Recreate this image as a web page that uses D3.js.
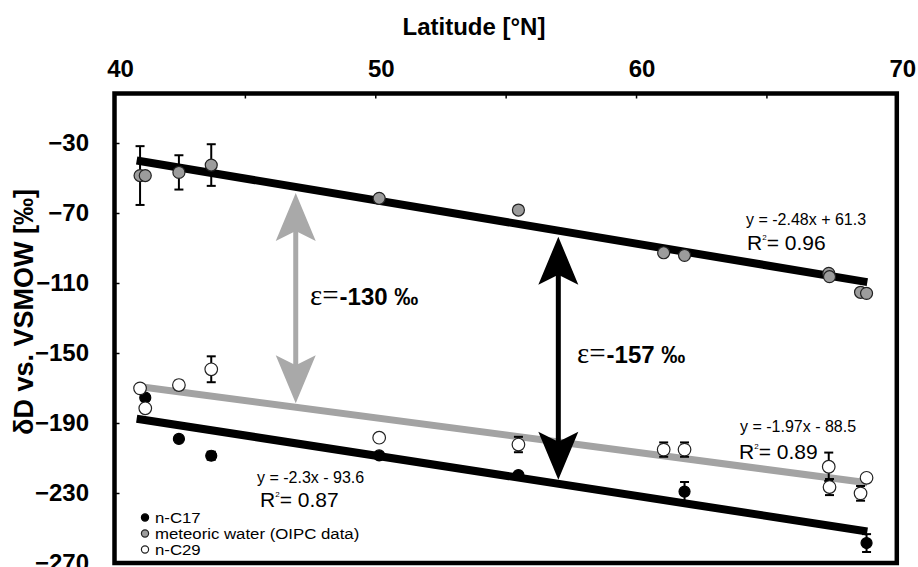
<!DOCTYPE html>
<html>
<head>
<meta charset="utf-8">
<script src="https://cdn.jsdelivr.net/npm/d3@7"></script>
<style>
  html, body { margin: 0; padding: 0; background: #fff; }
  svg { display: block; }
  text { font-family: "Liberation Sans", Arial, sans-serif; fill: #000; }
</style>
</head>
<body>
<svg id="chart" width="918" height="567"></svg>
<script>
// Latitude (°N) and δD (‰) of each series, with error bar half-widths (0 = none)
const metLat = [40.98, 41.18, 42.47, 43.71, 50.15, 55.49, 61.06, 61.86, 67.39, 67.42, 68.61, 68.84];
const metVal = [-48.6, -48.6, -46.8, -42.6, -61.6, -68.3, -92.7, -94.2, -104.5, -106.4, -115.3, -115.9];
const metErr = [16.8, 0, 9.8, 11.9, 0, 0, 0, 0, 0, 0, 0, 0];

const c29Lat = [40.98, 41.18, 42.47, 43.71, 50.15, 55.49, 61.06, 61.86, 67.39, 67.42, 68.61, 68.84];
const c29Val = [-170.2, -181.6, -168.3, -159.3, -198.4, -202.3, -205.2, -205.2, -215.0, -226.6, -230.2, -221.3];
const c29Err = [1.5, 0, 2.5, 7.4, 0, 4.4, 4.1, 4.1, 8.1, 4.6, 4.2, 1.5];

const c17Lat = [41.18, 42.47, 43.71, 50.15, 55.49, 61.86, 68.84];
const c17Val = [-175.5, -199.1, -208.7, -208.5, -219.7, -229.2, -258.6];
const c17Err = [0, 0, 2.3, 0, 0, 5.5, 5.1];

// Linear fits: meteoric water, n-C29, n-C17
const fitSlope = [-2.48, -1.97, -2.3];
const fitIntercept = [61.3, -88.5, -93.6];
const fitR2 = ["0.96", "0.89", "0.87"];
const fitRange = [40.85, 68.87];

// Fractionation arrows
const arrowLat = [46.95, 57.02];
const arrowText = ["-130 ‰", "-157 ‰"];

// Axis ticks
const xTicks = [40, 45, 50, 55, 60, 65, 70];
const yTicks = [-270, -230, -190, -150, -110, -70, -30];

const legendLabels = ["n-C17", "meteoric water (OIPC data)", "n-C29"];

// ---- layout ----
const svg = d3.select("#chart");
const plotLeft = 114.5, plotRight = 896.8, plotTop = 93.5, plotBottom = 563;
const x = d3.scaleLinear().domain([40, 70]).range([plotLeft, plotRight]);
const y = d3.scaleLinear().domain([-270, -30]).range([plotBottom, 143]);

const grayLine = "#a3a3a3";
const grayArrow = "#a9a9a9";
const grayFill = "#9c9c9c";

// axes (ticks inside the frame)
const xAxis = d3.axisTop(x).tickValues(xTicks).tickSize(-5).tickPadding(17)
  .tickFormat(d => d % 10 === 0 ? d : "");
const gx = svg.append("g").attr("transform", `translate(0,${plotTop})`).call(xAxis);
gx.select(".domain").remove();
gx.selectAll(".tick line").attr("stroke", "#000").attr("stroke-width", 1.5);
gx.selectAll(".tick text").attr("dx", 5.5)
  .style("font-family", "'Liberation Sans', Arial, sans-serif")
  .style("font-weight", "bold").style("font-size", "24px").attr("fill", "#000");

const yAxis = d3.axisLeft(y).tickValues(yTicks).tickSize(-5).tickPadding(25.5);
const gy = svg.append("g").attr("transform", `translate(${plotLeft},0)`).call(yAxis);
gy.select(".domain").remove();
gy.selectAll(".tick line").attr("stroke", "#000").attr("stroke-width", 1.5);
gy.selectAll(".tick text")
  .style("font-family", "'Liberation Sans', Arial, sans-serif")
  .style("font-weight", "bold").style("font-size", "24px").attr("fill", "#000");

// axis titles
svg.append("text").attr("x", 474).attr("y", 35).attr("text-anchor", "middle")
  .style("font-weight", "bold").style("font-size", "24px").text("Latitude [°N]");
svg.append("text").attr("transform", "translate(33,312) rotate(-90)").attr("text-anchor", "middle")
  .style("font-weight", "bold").style("font-size", "27px").text("δD vs. VSMOW [‰]");

// regression lines
const fitColors = ["#000", grayLine, "#000"];
const fitWidths = [8, 7, 8];
const fitLine = i => d3.line().x(d => x(d)).y(d => y(fitSlope[i] * d + fitIntercept[i]));
[0, 1, 2].forEach(i => {
  svg.append("path").datum(fitRange).attr("d", fitLine(i))
    .attr("fill", "none").attr("stroke", fitColors[i]).attr("stroke-width", fitWidths[i]);
});

// double-headed arrows between the meteoric line and the lipid lines
function arrowHead(g, cx, tipY, dir, color) {
  const L = 48, W = 20, N = 38;
  const pts = [[cx, tipY], [cx + W, tipY + dir * L], [cx, tipY + dir * N], [cx - W, tipY + dir * L]];
  g.append("path").attr("d", "M" + pts.map(p => p.join(",")).join("L") + "Z").attr("fill", color);
}
const arrowPairs = [[0, 1], [0, 2]];
const arrowColors = [grayArrow, "#000"];
const arrowTextPos = [[310, 305], [577, 363]];
arrowLat.forEach((la, i) => {
  const g = svg.append("g");
  const cx = x(la);
  const [a, b] = arrowPairs[i];
  const y1 = y(fitSlope[a] * la + fitIntercept[a]) + 6;
  const y2 = y(fitSlope[b] * la + fitIntercept[b]) - 4;
  g.append("line").attr("x1", cx).attr("x2", cx).attr("y1", y1 + 30).attr("y2", y2 - 30)
    .attr("stroke", arrowColors[i]).attr("stroke-width", 5);
  arrowHead(g, cx, y1, 1, arrowColors[i]);
  arrowHead(g, cx, y2, -1, arrowColors[i]);
  const t = svg.append("text").attr("x", arrowTextPos[i][0]).attr("y", arrowTextPos[i][1]);
  t.append("tspan").style("font-family", "'Liberation Serif', 'Times New Roman', serif")
    .style("font-size", "29px").text("ε=");
  t.append("tspan").attr("dx", 1).style("font-weight", "bold").style("font-size", "24px").text(arrowText[i]);
});

// equation labels
const eqPos = [[746, 225], [740, 432], [257, 483]];
const r2Pos = [[747, 250], [739, 459], [260, 507]];
const fmt = v => String(Math.abs(v));
[0, 1, 2].forEach(i => {
  const b = fitIntercept[i];
  svg.append("text").attr("x", eqPos[i][0]).attr("y", eqPos[i][1]).style("font-size", "16px")
    .text(`y = ${fitSlope[i]}x ${b < 0 ? "-" : "+"} ${fmt(b)}`);
  const t = svg.append("text").attr("x", r2Pos[i][0]).attr("y", r2Pos[i][1]).style("font-size", "21px");
  t.append("tspan").text("R");
  t.append("tspan").attr("dy", -10).style("font-size", "8px").text("2");
  t.append("tspan").attr("dy", 10).text("= " + fitR2[i]);
});

// error bars + points
function series(lat, val, err, fill, r) {
  const g = svg.append("g");
  const idx = d3.range(lat.length);
  idx.filter(i => err[i] > 0).forEach(i => {
    const cx = x(lat[i]), yt = y(val[i] + err[i]), yb = y(val[i] - err[i]);
    g.append("line").attr("x1", cx).attr("x2", cx).attr("y1", yt).attr("y2", yb)
      .attr("stroke", "#000").attr("stroke-width", 2);
    [yt, yb].forEach(yy => g.append("line").attr("x1", cx - 4.5).attr("x2", cx + 4.5)
      .attr("y1", yy).attr("y2", yy).attr("stroke", "#000").attr("stroke-width", 2));
  });
  g.selectAll("circle").data(idx).join("circle")
    .attr("cx", i => x(lat[i])).attr("cy", i => y(val[i])).attr("r", r)
    .attr("fill", fill).attr("stroke", fill === "#000" ? "#000" : "#222").attr("stroke-width", 1.2);
}
series(c17Lat, c17Val, c17Err, "#000", 5.5);
series(metLat, metVal, metErr, grayFill, 6);
series(c29Lat, c29Val, c29Err, "#fff", 6.3);

// legend
const legFill = ["#000", grayFill, "#fff"];
const legY = [517.5, 533.5, 549.5];
legendLabels.forEach((lab, i) => {
  svg.append("circle").attr("cx", 145).attr("cy", legY[i]).attr("r", 3.6)
    .attr("fill", legFill[i]).attr("stroke", i === 0 ? "#000" : "#222").attr("stroke-width", 1.2);
  svg.append("text").attr("transform", `translate(155,${legY[i] + 5}) scale(1.12,1)`)
    .style("font-size", "15px").text(lab);
});

// frame
svg.append("rect").attr("x", plotLeft).attr("y", plotTop).attr("width", plotRight - plotLeft).attr("height", plotBottom - plotTop)
  .attr("fill", "none").attr("stroke", "#000").attr("stroke-width", 4.5);
</script>
</body>
</html>
